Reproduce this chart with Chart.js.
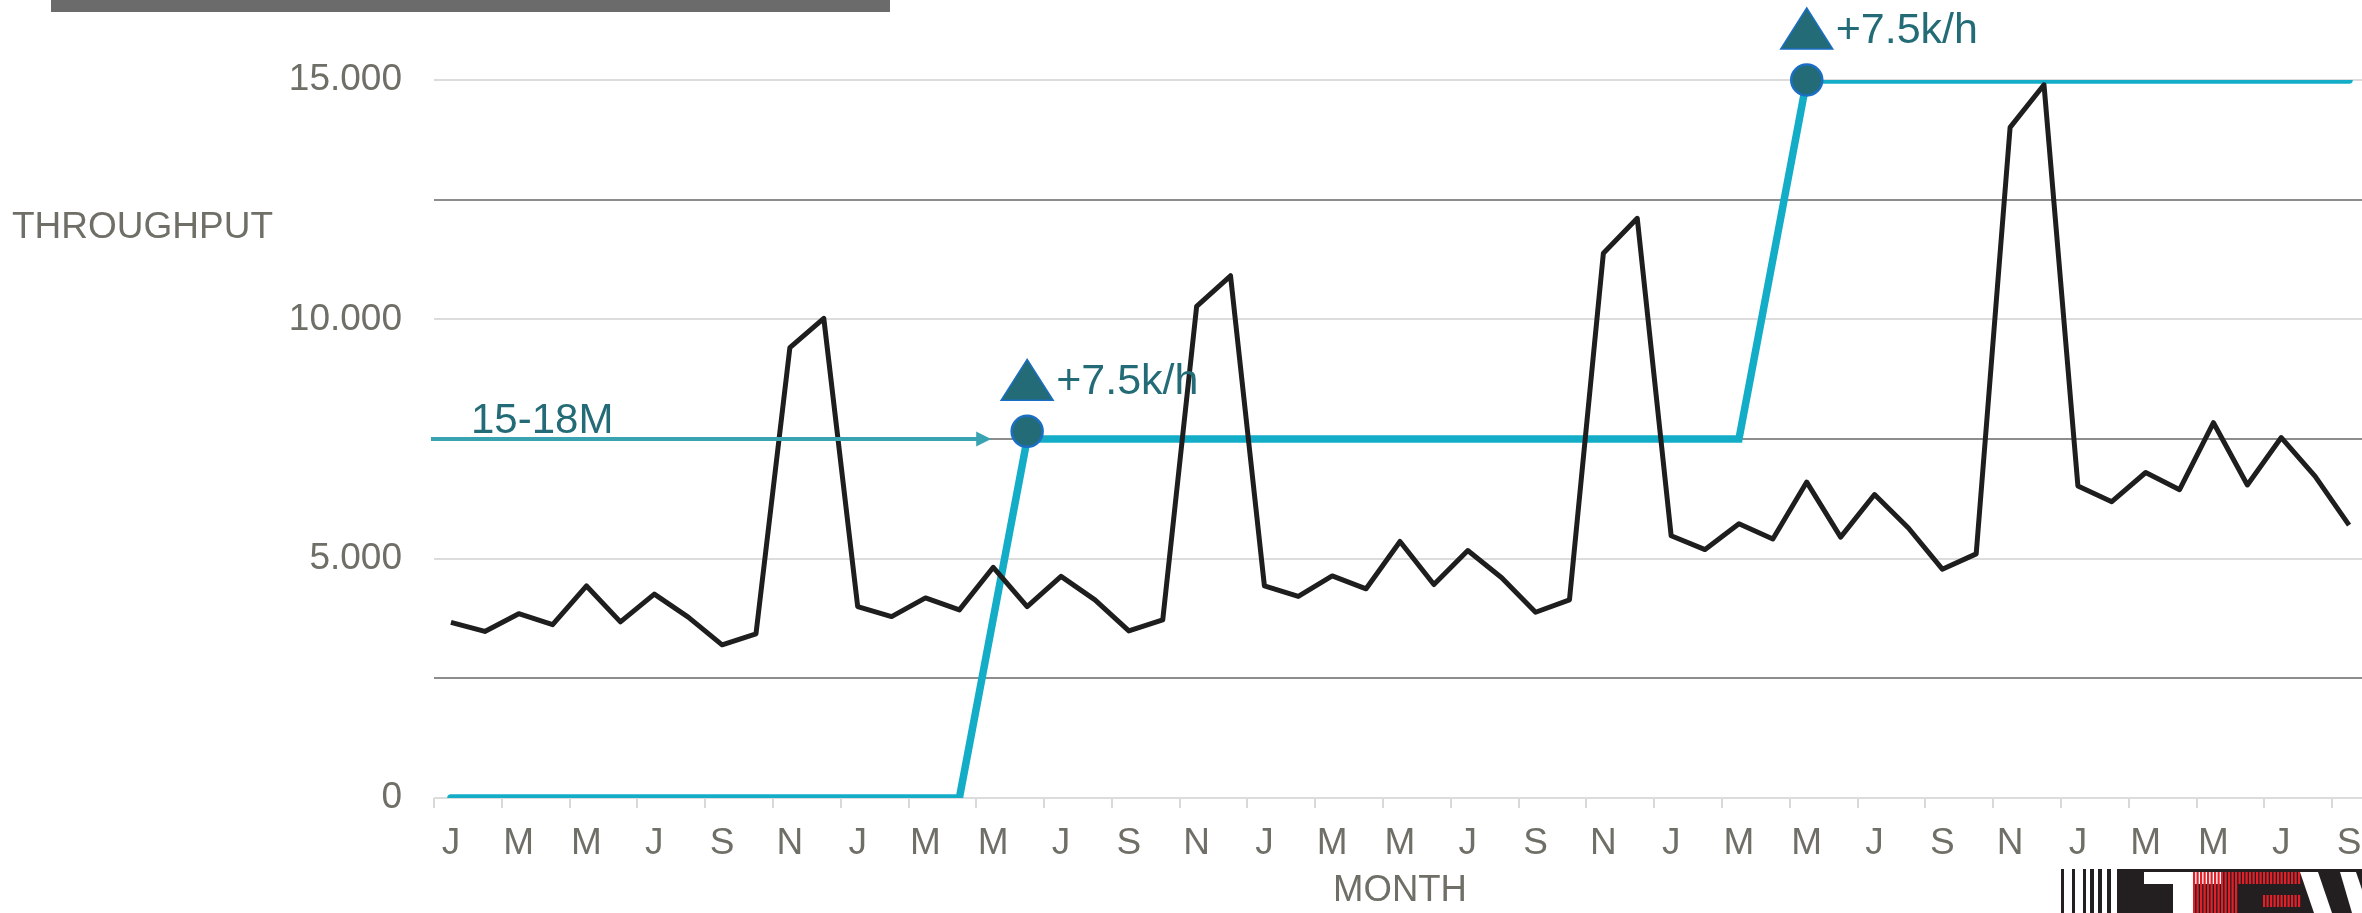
<!DOCTYPE html>
<html>
<head>
<meta charset="utf-8">
<script src="https://cdn.jsdelivr.net/npm/chart.js@4"></script>
<style>
  html, body { margin: 0; padding: 0; background: #fff; overflow: hidden; }
  #wrap { position: relative; width: 2384px; height: 913px; }
</style>
</head>
<body>
<div id="wrap">
  <canvas id="throughputChart" width="2384" height="913"></canvas>
</div>
<script>
const months = [
  'J','F','M','A','M','J','J','A','S','O','N','D',
  'J','F','M','A','M','J','J','A','S','O','N','D',
  'J','F','M','A','M','J','J','A','S','O','N','D',
  'J','F','M','A','M','J','J','A','S','O','N','D',
  'J','F','M','A','M','J','J','A','S'
];

const throughput = [
  3670, 3480, 3850, 3620, 4430, 3680, 4260, 3780, 3200, 3430, 9410, 10020,
  4000, 3790, 4180, 3930, 4820, 4000, 4630, 4140, 3490, 3720, 10270, 10910,
  4430, 4210, 4640, 4370, 5360, 4460, 5170, 4600, 3880, 4140, 11380, 12110,
  5480, 5190, 5730, 5410, 6600, 5450, 6340, 5640, 4780, 5100, 14010, 14900,
  6520, 6190, 6800, 6440, 7840, 6540, 7530, 6720, 5700
];

const capacity = [
  0, 0, 0, 0, 0, 0, 0, 0, 0, 0, 0, 0,
  0, 0, 0, 0, null, 7500, 7500, 7500, 7500, 7500, 7500, 7500,
  7500, 7500, 7500, 7500, 7500, 7500, 7500, 7500, 7500, 7500, 7500, 7500,
  7500, 7500, 7500, null, 15000, 15000, 15000, 15000, 15000, 15000, 15000, 15000,
  15000, 15000, 15000, 15000, 15000, 15000, 15000, 15000, 15000
];

const upgradePoints = [
  null, null, null, null, null, null, null, null, null, null, null, null,
  null, null, null, null, null, 7660, null, null, null, null, null, null,
  null, null, null, null, null, null, null, null, null, null, null, null,
  null, null, null, null, 15000, null, null, null, null, null, null, null,
  null, null, null, null, null, null, null, null, null
];
const upgradeLabels = ['+7.5k/h', '+7.5k/h'];

const startLevel = 7500;
const startLabel = '15-18M';
const yTicks = [0, 5000, 10000, 15000];

const FONT = "'Liberation Sans', Arial, sans-serif";
const GREY_TEXT = '#6f6f67';
const TEAL_DARK = '#236b76';

const annotations = {
  id: 'annotations',
  beforeDraw(chart) {
    const c = chart.ctx;
    c.save();
    c.fillStyle = '#6b6b6b';
    c.fillRect(51, 0, 839, 12);
    c.fillStyle = GREY_TEXT;
    c.font = '37px ' + FONT;
    c.textAlign = 'left';
    c.textBaseline = 'alphabetic';
    c.fillText('THROUGHPUT', 12, 238);
    c.restore();
  },
  afterDatasetsDraw(chart) {
    const c = chart.ctx;
    const area = chart.chartArea;
    const y = chart.scales.y;
    const marks = chart.getDatasetMeta(2).data.filter((p, i) => upgradePoints[i] !== null);

    c.save();
    // arrow for the starting level
    const ay = y.getPixelForValue(startLevel);
    const tipX = marks[0].x - 36;
    c.strokeStyle = '#3aa3b2';
    c.fillStyle = '#3aa3b2';
    c.lineWidth = 4;
    c.beginPath();
    c.moveTo(area.left - 3, ay);
    c.lineTo(tipX - 12, ay);
    c.stroke();
    c.beginPath();
    c.moveTo(tipX, ay);
    c.lineTo(tipX - 15, ay - 7.5);
    c.lineTo(tipX - 15, ay + 7.5);
    c.closePath();
    c.fill();
    c.fillStyle = TEAL_DARK;
    c.font = '42px ' + FONT;
    c.textAlign = 'left';
    c.textBaseline = 'alphabetic';
    c.fillText(startLabel, area.left + 37, ay - 6);

    // triangles and step labels above each upgrade point
    marks.forEach((p, k) => {
      c.beginPath();
      c.moveTo(p.x, p.y - 72);
      c.lineTo(p.x + 26, p.y - 31);
      c.lineTo(p.x - 26, p.y - 31);
      c.closePath();
      c.fillStyle = TEAL_DARK;
      c.fill();
      c.strokeStyle = '#1a6fc4';
      c.lineWidth = 1.5;
      c.stroke();
      c.fillStyle = TEAL_DARK;
      c.font = '43px ' + FONT;
      c.fillText(upgradeLabels[k], p.x + 29, p.y - 37);
    });
    c.restore();
  },
  afterDraw(chart) {
    // logo fragment in the bottom right corner
    const c = chart.ctx;
    c.save();
    c.fillStyle = '#231f20';
    [[2061, 3], [2072, 3], [2083, 3], [2090, 4], [2098, 4], [2107, 4]].forEach(b => c.fillRect(b[0], 869, b[1], 44));
    c.fillRect(2117, 869, 270, 44);
    c.fillStyle = '#ffffff';
    c.fillRect(2144, 872, 78, 12);
    c.fillRect(2173, 884, 20, 29);
    c.fillStyle = '#e3202a';
    for (let x = 2193; x < 2300; x += 3.5) {
      c.fillRect(x, 872, 2.2, 12);
      if (x < 2237) c.fillRect(x, 884, 2.2, 29);
      if (x > 2260) c.fillRect(x, 895, 2.2, 12);
    }
    c.fillStyle = '#ffffff';
    c.beginPath();
    c.moveTo(2300, 872);
    c.lineTo(2318, 872);
    c.lineTo(2332, 913);
    c.lineTo(2314, 913);
    c.closePath();
    c.fill();
    c.beginPath();
    c.moveTo(2340, 872);
    c.lineTo(2356, 872);
    c.lineTo(2370, 913);
    c.lineTo(2352, 913);
    c.closePath();
    c.fill();
    c.restore();
  }
};

const ctx = document.getElementById('throughputChart').getContext('2d');

new Chart(ctx, {
  type: 'line',
  data: {
    labels: months,
    datasets: [
      {
        label: 'Throughput',
        data: throughput,
        borderColor: '#1e1e1e',
        borderWidth: 5,
        borderJoinStyle: 'round',
        pointRadius: 0,
        tension: 0,
        order: 1
      },
      {
        label: 'Capacity',
        data: capacity,
        borderColor: '#13adc8',
        borderWidth: 7.5,
        borderCapStyle: 'round',
        pointRadius: 0,
        tension: 0,
        spanGaps: true,
        order: 2
      },
      {
        label: 'Upgrade',
        data: upgradePoints,
        showLine: false,
        pointRadius: 15.5,
        pointBorderWidth: 2.5,
        pointBackgroundColor: TEAL_DARK,
        pointBorderColor: '#1a6fc4',
        clip: false,
        order: 0
      }
    ]
  },
  options: {
    responsive: false,
    animation: false,
    layout: { padding: { top: 80, right: 1, bottom: 0, left: 0 } },
    plugins: {
      legend: { display: false },
      tooltip: { enabled: false }
    },
    scales: {
      x: {
        type: 'category',
        offset: true,
        border: { display: false },
        grid: {
          offset: true,
          drawOnChartArea: false,
          tickLength: 10,
          lineWidth: 2,
          color: c => (c.index % 2 === 0 ? '#d9d9d9' : 'rgba(0,0,0,0)')
        },
        ticks: {
          autoSkip: false,
          maxRotation: 0,
          padding: 14,
          color: GREY_TEXT,
          font: { family: FONT, size: 37 },
          callback: (val, idx) => (idx % 2 === 0 ? months[idx] : '')
        },
        title: {
          display: true,
          text: 'MONTH',
          color: GREY_TEXT,
          font: { family: FONT, size: 36.5 },
          padding: 0
        },
        afterFit: scale => { scale.height = 115; }
      },
      y: {
        min: 0,
        max: 15000,
        border: { display: false },
        grid: {
          drawTicks: false,
          lineWidth: 2,
          color: c => (c.tick && c.tick.value % 5000 === 0 ? '#dcdcdc' : '#8d8d8d')
        },
        ticks: {
          stepSize: 2500,
          padding: 32,
          color: GREY_TEXT,
          font: { family: FONT, size: 37 },
          callback: v => (yTicks.includes(v) ? v.toLocaleString('de-DE') : '')
        },
        afterFit: scale => { scale.width = 434; }
      }
    }
  },
  plugins: [annotations]
});
</script>
</body>
</html>
